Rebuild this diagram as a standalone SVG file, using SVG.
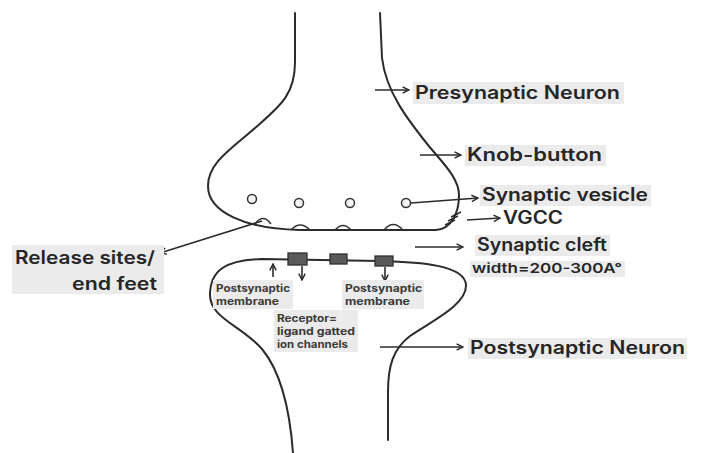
<svg xmlns="http://www.w3.org/2000/svg" width="701" height="453" viewBox="0 0 701 453">
  <style>
    .outline { fill: none; stroke: #2b2b2b; stroke-width: 2; stroke-linecap: round; stroke-linejoin: round; }
    .conn { fill: none; stroke: #2b2b2b; stroke-width: 1.6; marker-end: url(#arrow); }
    .vesicle { fill: #f4f4f4; stroke: #333; stroke-width: 1.5; }
    .site { fill: none; stroke: #333; stroke-width: 1.5; }
    .receptor { fill: #5a5a5a; stroke: #2e2e2e; stroke-width: 1.3; }
    .hl { fill: #ebebeb; }
    .lbl { font-family: Inter, "Noto Sans", sans-serif; font-weight: 600; font-size: 18px; fill: #262626; }
    .sm { font-family: Inter, "Noto Sans", sans-serif; font-weight: 700; font-size: 10px; fill: #3a3a3a; }
    .mid { font-family: Inter, "Noto Sans", sans-serif; font-weight: 600; font-size: 13px; fill: #262626; }
  </style>
  <defs>
    <marker id="arrow" viewBox="0 0 10 10" refX="9" refY="5" markerWidth="8" markerHeight="8" markerUnits="userSpaceOnUse" orient="auto">
      <path d="M1,1 L9,5 L1,9" fill="none" stroke="#2b2b2b" stroke-width="1.8"/>
    </marker>
  </defs>
  <rect width="701" height="453" fill="#ffffff"/>

  <!-- presynaptic terminal -->
  <g id="presynaptic">
    <path class="outline" d="M295,13 L295,62 C295,95 280,106 255,128 C230,150 208,163 208,186 C208,212 245,229 300,230 L436,230 C452,229 459,212 459,195 C459,178 442,162 428,145 C408,120 386,92 382,58 L380,13"/>
    <circle class="vesicle" cx="252" cy="199" r="4.5"/>
    <circle class="vesicle" cx="299" cy="203" r="4.5"/>
    <circle class="vesicle" cx="350" cy="203" r="4.5"/>
    <circle class="vesicle" cx="406" cy="203" r="4.5"/>
    <path class="site" d="M255,224 Q263,213 271,224"/>
    <path class="site" d="M291,230 Q300,220 310,230"/>
    <path class="site" d="M335,230 Q343,221 351,230"/>
    <path class="site" d="M384,230 Q393,219 403,230"/>
    <g id="vgcc-channels" stroke="#2b2b2b" stroke-width="1.4">
      <line x1="445" y1="225" x2="455" y2="220"/>
      <line x1="448" y1="221" x2="458" y2="216"/>
      <line x1="451" y1="217" x2="461" y2="212"/>
    </g>
  </g>

  <!-- postsynaptic neuron -->
  <g id="postsynaptic">
    <path class="outline" d="M293,453 C290,412 281,372 262,349 C242,326 210,318 210,295 C210,270 226,260 262,259 L380,261 C420,262 465,265 466,285 C467,305 430,322 410,336 C393,349 388,366 388,392 L388,440"/>
    <rect class="receptor" x="288" y="253" width="19" height="12"/>
    <rect class="receptor" x="330" y="254" width="17" height="10"/>
    <rect class="receptor" x="375" y="256" width="18" height="10"/>
  </g>

  <!-- connectors -->
  <g id="connectors">
    <line class="conn" x1="375" y1="90" x2="409" y2="90"/>
    <line class="conn" x1="420" y1="155" x2="461" y2="155"/>
    <line class="conn" x1="411" y1="203" x2="478" y2="198"/>
    <line class="conn" x1="467" y1="220" x2="500" y2="218"/>
    <line class="conn" x1="415" y1="247" x2="463" y2="247"/>
    <line class="conn" x1="262" y1="221" x2="160" y2="253"/>
    <line class="conn" x1="380" y1="347" x2="463" y2="347"/>
    <line class="conn" x1="273" y1="277" x2="273" y2="264"/>
    <line class="conn" x1="302" y1="266" x2="302" y2="280"/>
    <line class="conn" x1="385" y1="267" x2="385" y2="281"/>
  </g>

  <!-- labels -->
  <g id="label-presynaptic-neuron">
    <rect class="hl" x="413" y="82" width="211" height="22"/>
    <text class="lbl" x="415" y="99" textLength="205" lengthAdjust="spacingAndGlyphs">Presynaptic Neuron</text>
  </g>
  <g id="label-knob-button">
    <rect class="hl" x="465" y="145" width="141" height="21"/>
    <text class="lbl" x="467" y="161" textLength="135" lengthAdjust="spacingAndGlyphs">Knob-button</text>
  </g>
  <g id="label-synaptic-vesicle">
    <rect class="hl" x="480" y="185" width="171" height="21"/>
    <text class="lbl" x="482" y="201" textLength="166" lengthAdjust="spacingAndGlyphs">Synaptic vesicle</text>
  </g>
  <g id="label-vgcc">
    <text class="lbl" x="503" y="224" textLength="60" lengthAdjust="spacingAndGlyphs">VGCC</text>
  </g>
  <g id="label-synaptic-cleft">
    <rect class="hl" x="475" y="235" width="135" height="21"/>
    <text class="lbl" x="477" y="251" textLength="130" lengthAdjust="spacingAndGlyphs">Synaptic cleft</text>
    <rect class="hl" x="470" y="261" width="155" height="16"/>
    <text class="mid" x="472" y="273" textLength="150" lengthAdjust="spacingAndGlyphs">width=200-300A°</text>
  </g>
  <g id="label-release-sites">
    <rect class="hl" x="12" y="245" width="152" height="49"/>
    <text class="lbl" x="15" y="264" textLength="140" lengthAdjust="spacingAndGlyphs">Release sites/</text>
    <text class="lbl" x="72" y="290" textLength="85" lengthAdjust="spacingAndGlyphs">end feet</text>
  </g>
  <g id="label-postsynaptic-neuron">
    <rect class="hl" x="468" y="338" width="219" height="21"/>
    <text class="lbl" x="470" y="354" textLength="215" lengthAdjust="spacingAndGlyphs">Postsynaptic Neuron</text>
  </g>
  <g id="label-membrane-left">
    <rect class="hl" x="213" y="280" width="80" height="29"/>
    <text class="sm" x="216" y="292" textLength="74" lengthAdjust="spacingAndGlyphs">Postsynaptic</text>
    <text class="sm" x="216" y="305" textLength="63" lengthAdjust="spacingAndGlyphs">membrane</text>
  </g>
  <g id="label-membrane-right">
    <rect class="hl" x="342" y="280" width="82" height="29"/>
    <text class="sm" x="345" y="292" textLength="77" lengthAdjust="spacingAndGlyphs">Postsynaptic</text>
    <text class="sm" x="345" y="305" textLength="65" lengthAdjust="spacingAndGlyphs">membrane</text>
  </g>
  <g id="label-receptor">
    <rect class="hl" x="274" y="310" width="84" height="42"/>
    <text class="sm" x="277" y="322" textLength="60" lengthAdjust="spacingAndGlyphs">Receptor=</text>
    <text class="sm" x="277" y="335" textLength="78" lengthAdjust="spacingAndGlyphs">ligand gatted</text>
    <text class="sm" x="277" y="348" textLength="71" lengthAdjust="spacingAndGlyphs">ion channels</text>
  </g>
</svg>
